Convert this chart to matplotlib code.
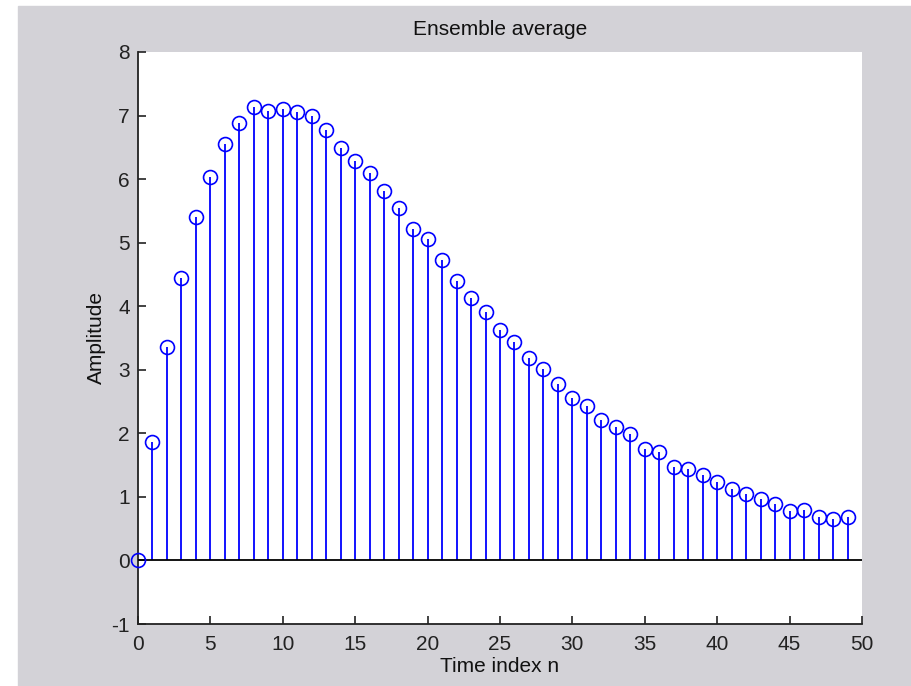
"""
Ensemble average stem plot (MATLAB style)
"""

import matplotlib
matplotlib.use('Agg')
import matplotlib.pyplot as plt
import numpy as np

# Data
time_index = list(range(50))
amplitude = [0.00, 1.86, 3.36, 4.45, 5.40, 6.03, 6.55, 6.88, 7.13, 7.07,
             7.10, 7.05, 7.00, 6.77, 6.49, 6.28, 6.09, 5.82, 5.55, 5.22,
             5.05, 4.73, 4.39, 4.13, 3.91, 3.63, 3.44, 3.19, 3.01, 2.78,
             2.56, 2.43, 2.21, 2.10, 1.99, 1.75, 1.71, 1.47, 1.44, 1.34,
             1.23, 1.12, 1.05, 0.97, 0.89, 0.78, 0.79, 0.68, 0.65, 0.68]
x_ticks = [0, 5, 10, 15, 20, 25, 30, 35, 40, 45, 50]
y_ticks = [-1, 0, 1, 2, 3, 4, 5, 6, 7, 8]

plt.rcParams['font.family'] = ['Liberation Sans', 'DejaVu Sans']
plt.rcParams['axes.unicode_minus'] = False

bg = '#d3d2d7'
fig = plt.figure(figsize=(9.12, 6.86), dpi=100, facecolor='white')
# grey figure panel (white margin at top/left as in the screenshot)
fig.patches.append(plt.Rectangle((18 / 912, 0), 1, 1 - 6 / 686,
                                 transform=fig.transFigure, color=bg, zorder=-10))

ax = fig.add_axes([138 / 912, 1 - 624 / 686, (862 - 138) / 912, (624 - 52) / 686])
ax.set_facecolor('white')

markerline, stemlines, baseline = ax.stem(time_index, amplitude, linefmt='b-',
                                          markerfmt='bo', basefmt=' ')
markerline.set_markerfacecolor('none')
markerline.set_markeredgecolor('#0000ff')
markerline.set_markersize(10)
markerline.set_markeredgewidth(1.2)
markerline.set_clip_on(False)
markerline.set_zorder(4)
stemlines.set_color('#0000ff')
stemlines.set_linewidth(1.3)
baseline.set_visible(False)
ax.axhline(0, color='black', linewidth=1.3, zorder=3)

ax.set_xlim(0, 50)
ax.set_ylim(-1, 8)
ax.set_xticks(x_ticks)
ax.set_yticks(y_ticks)
ax.tick_params(direction='in', length=6, width=1.2, colors='#222222',
               labelsize=15, pad=6)
ax.tick_params(axis='x', pad=8)
for side in ['top', 'right']:
    ax.spines[side].set_visible(False)
for side in ['left', 'bottom']:
    ax.spines[side].set_color('#222222')
    ax.spines[side].set_linewidth(1.3)

ax.set_title('Ensemble average', fontsize=15, color='#111111', pad=12)
ax.set_xlabel('Time index n', fontsize=15, color='#111111', labelpad=2)
ax.set_ylabel('Amplitude', fontsize=15, color='#111111', labelpad=4)

fig.savefig('out.png', dpi=100, facecolor=fig.get_facecolor())
